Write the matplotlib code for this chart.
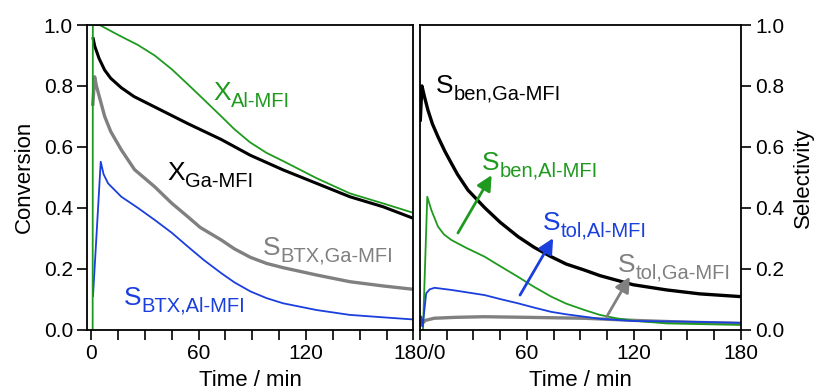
import matplotlib
matplotlib.use("Agg")
import matplotlib.pyplot as plt
from matplotlib.transforms import ScaledTranslation
from matplotlib.ticker import MultipleLocator

plt.rcParams['font.family'] = ['Liberation Sans', 'DejaVu Sans']

# left panel: conversion / BTX selectivity (time in min)
t_x_al = [0.9, 1.0, 4.8, 16.9, 26, 35.5, 45, 54.1, 63, 72.7, 80, 88.7, 98, 107.3, 125.9, 144.5, 163.1, 180]
x_al = [0.0, 1.0, 1.0, 0.962, 0.935, 0.9, 0.855, 0.805, 0.755, 0.70, 0.658, 0.615, 0.58, 0.553, 0.497, 0.447, 0.414, 0.383]

t_x_ga = [1.2, 2.1, 4.5, 7.6, 11, 16.9, 24, 35.5, 54.1, 72.7, 89, 107.3, 125.9, 144.5, 163.1, 180]
x_ga = [0.955, 0.93, 0.89, 0.852, 0.825, 0.794, 0.765, 0.731, 0.676, 0.624, 0.572, 0.524, 0.48, 0.436, 0.403, 0.365]

t_btx_ga = [1.0, 2.0, 3.0, 7.6, 11, 16.9, 24.3, 35.5, 45, 54.1, 61, 72.7, 80, 89, 98, 107.3, 125.9, 144.5, 163.1, 180]
s_btx_ga = [0.74, 0.83, 0.80, 0.70, 0.65, 0.59, 0.525, 0.469, 0.415, 0.37, 0.335, 0.294, 0.265, 0.237, 0.217, 0.203, 0.179, 0.157, 0.143, 0.132]

t_btx_al = [1.1, 5.4, 7.0, 9.5, 16.9, 26, 35.5, 45, 54.1, 63, 72.7, 80, 89, 98, 107.3, 125.9, 144.5, 163.1, 180]
s_btx_al = [0.11, 0.551, 0.51, 0.48, 0.436, 0.4, 0.36, 0.318, 0.272, 0.228, 0.185, 0.155, 0.125, 0.103, 0.086, 0.064, 0.048, 0.04, 0.033]

# right panel: benzene / toluene selectivity
t_ben_ga = [0.2, 1.1, 2.5, 4.5, 7, 10.1, 14, 17.6, 21, 26.9, 36.3, 45, 55, 64, 73.6, 82, 92.3, 100.9, 119.6, 138.3, 157, 180]
s_ben_ga = [0.688, 0.80, 0.765, 0.72, 0.675, 0.633, 0.585, 0.546, 0.51, 0.458, 0.40, 0.352, 0.305, 0.27, 0.239, 0.215, 0.195, 0.177, 0.147, 0.13, 0.117, 0.108]

t_ben_al = [1.7, 4.1, 6.4, 10.1, 13.5, 17.6, 26, 36.3, 45, 55, 64, 73.6, 82, 92.3, 100.9, 110, 119.6, 138.3, 180]
s_ben_al = [0.0, 0.436, 0.392, 0.338, 0.312, 0.294, 0.268, 0.239, 0.208, 0.173, 0.14, 0.108, 0.085, 0.064, 0.048, 0.037, 0.029, 0.02, 0.015]

t_tol_al = [0.7, 1.5, 3.5, 5.5, 8.2, 17.6, 36.3, 45, 55, 64, 73.6, 82, 92.3, 100.9, 119.6, 147.6, 180]
s_tol_al = [0.042, 0.01, 0.119, 0.132, 0.137, 0.13, 0.113, 0.1, 0.086, 0.072, 0.058, 0.05, 0.042, 0.035, 0.028, 0.026, 0.022]

t_tol_ga = [0.5, 3, 8, 20, 36, 60, 92, 120, 150, 180]
s_tol_ga = [0.015, 0.03, 0.037, 0.04, 0.042, 0.04, 0.037, 0.03, 0.024, 0.02]

GREEN = '#1f9a1f'
BLUE = '#1a3fdc'
GRAY = '#808080'
BLACK = '#000000'

fig = plt.figure(figsize=(8.22, 3.92), dpi=100)
ax1 = fig.add_axes([0.1064, 0.1594, 0.3966, 0.7768])
ax2 = fig.add_axes([0.5109, 0.1594, 0.3905, 0.7768])

ax1.plot(t_btx_ga, s_btx_ga, color=GRAY, lw=2.4)
ax1.plot(t_btx_al, s_btx_al, color=BLUE, lw=1.3)
ax1.plot(t_x_ga, x_ga, color=BLACK, lw=2.2)
ax1.plot(t_x_al, x_al, color=GREEN, lw=1.3)

ax2.plot(t_tol_ga, s_tol_ga, color=GRAY, lw=2.4)
ax2.plot(t_ben_ga, s_ben_ga, color=BLACK, lw=2.4)
ax2.plot(t_ben_al, s_ben_al, color=GREEN, lw=1.3)
ax2.plot(t_tol_al, s_tol_al, color=BLUE, lw=1.3)


def label(ax, x, y, main, sub, color):
    ax.text(x, y, main, color=color, fontsize=19, va='baseline', ha='left')
    tr = ax.transData + ScaledTranslation(0.667 * 19 / 72, -4.8 / 72, fig.dpi_scale_trans)
    ax.text(x, y, sub, color=color, fontsize=14.5, va='baseline', ha='left', transform=tr)


label(ax1, 68.1, 0.754, 'X', 'Al-MFI', GREEN)
label(ax1, 42.4, 0.491, 'X', 'Ga-MFI', BLACK)
label(ax1, 96, 0.245, 'S', 'BTX,Ga-MFI', GRAY)
label(ax1, 18.4, 0.080, 'S', 'BTX,Al-MFI', BLUE)

label(ax2, 9.0, 0.776, 'S', 'ben,Ga-MFI', BLACK)
label(ax2, 34.8, 0.524, 'S', 'ben,Al-MFI', GREEN)
label(ax2, 69, 0.327, 'S', 'tol,Al-MFI', BLUE)
label(ax2, 111, 0.189, 'S', 'tol,Ga-MFI', GRAY)

arrows = [((21.3, 0.317), (40.2, 0.507), GREEN),
          ((56.1, 0.113), (74.7, 0.30), BLUE),
          ((104.7, 0.042), (117.7, 0.173), GRAY)]
for start, tip, c in arrows:
    ax2.annotate('', xy=tip, xytext=start,
                 arrowprops=dict(arrowstyle='-|>,head_length=0.5,head_width=0.25',
                                 color=c, lw=2, mutation_scale=18, shrinkA=0, shrinkB=0))

for ax in (ax1, ax2):
    ax.set_ylim(0, 1.0)
    ax.xaxis.set_major_locator(MultipleLocator(60))
    ax.xaxis.set_minor_locator(MultipleLocator(15))
    ax.yaxis.set_major_locator(MultipleLocator(0.2))
    ax.tick_params(which='both', direction='out', length=7, width=1.2, labelsize=15)
    for s in ax.spines.values():
        s.set_linewidth(1.3)
    ax.set_xlabel('Time / min', fontsize=16, labelpad=5)

ax1.set_xlim(-2, 180)
ax1.set_xticks([0, 60, 120, 180])
ax1.set_xticklabels(['0', '60', '120', ''])
ax1.yaxis.set_major_formatter(lambda v, pos: f"{v:.1f}")
ax1.set_ylabel('Conversion', fontsize=16, labelpad=6)

ax2.set_xlim(0, 180)
ax2.set_xticks([0, 60, 120, 180])
ax2.set_xticklabels(['180/0', '60', '120', '180'])
ax2.yaxis.tick_right()
ax2.yaxis.set_label_position('right')
ax2.yaxis.set_major_formatter(lambda v, pos: f"{v:.1f}")
ax2.set_ylabel('Selectivity', fontsize=16, labelpad=6)

plt.savefig('out.png', dpi=100)
